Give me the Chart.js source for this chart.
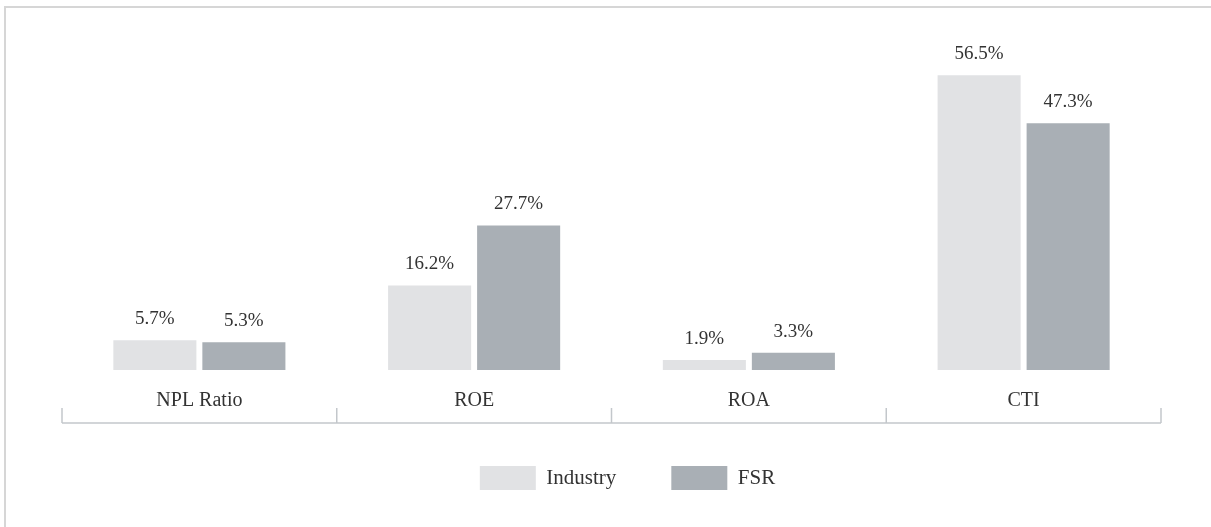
<!DOCTYPE html>
<html>
<head>
<meta charset="utf-8">
<script src="https://cdn.jsdelivr.net/npm/chart.js@4.4.1/dist/chart.umd.min.js"></script>
<style>
  html, body { margin: 0; padding: 0; background: #ffffff; }
  #frame { position: absolute; left: 4px; top: 6px; width: 1220px; height: 540px;
           border-top: 2px solid #d6d6d6; border-left: 2px solid #d6d6d6; box-sizing: border-box; }
  #wrap { position: absolute; left: 0; top: 0; width: 1211px; height: 527px; }
</style>
</head>
<body>
<div id="frame"></div>
<div id="wrap"><canvas id="c" width="1211" height="527"></canvas></div>
<script>
const categories = ["NPL Ratio", "ROE", "ROA", "CTI"];
const industryValues = [5.7, 16.2, 1.9, 56.5];
const fsrValues = [5.3, 27.7, 3.3, 47.3];
const seriesNames = ["Industry", "FSR"];

const FONT = "'Liberation Serif', 'Times New Roman', serif";
const TEXT = "#333333";

const valueLabels = {
  id: "valueLabels",
  afterDatasetsDraw(chart) {
    const ctx = chart.ctx;
    ctx.save();
    ctx.font = "19px " + FONT;
    ctx.fillStyle = TEXT;
    ctx.textAlign = "center";
    ctx.textBaseline = "middle";
    chart.data.datasets.forEach((ds, di) => {
      const meta = chart.getDatasetMeta(di);
      meta.data.forEach((bar, i) => {
        ctx.fillText(ds.data[i].toFixed(1) + "%", bar.x, bar.y - 21);
      });
    });
    ctx.restore();
  }
};

const axisLine = {
  id: "axisLine",
  afterDraw(chart) {
    const x = chart.scales.x;
    const ctx = chart.ctx;
    const y = chart.chartArea.bottom + 53;
    const n = categories.length;
    const bounds = [x.left];
    for (let i = 0; i < n - 1; i++) {
      bounds.push((x.getPixelForTick(i) + x.getPixelForTick(i + 1)) / 2);
    }
    bounds.push(x.right);
    ctx.save();
    ctx.strokeStyle = "#c3c7cb";
    ctx.lineWidth = 1.5;
    ctx.beginPath();
    ctx.moveTo(bounds[0], y);
    ctx.lineTo(bounds[bounds.length - 1], y);
    bounds.forEach(b => {
      ctx.moveTo(b, y);
      ctx.lineTo(b, y - 15);
    });
    ctx.stroke();
    ctx.restore();
  }
};

new Chart(document.getElementById("c"), {
  type: "bar",
  data: {
    labels: categories,
    datasets: [
      { label: seriesNames[0], data: industryValues, backgroundColor: "#e1e2e4", borderWidth: 0, yAxisID: "y" },
      { label: seriesNames[1], data: fsrValues, backgroundColor: "#a9afb5", borderWidth: 0, yAxisID: "y" }
    ]
  },
  options: {
    responsive: false,
    animation: false,
    layout: { padding: { left: 44, right: 0, top: 57, bottom: 27 } },
    datasets: { bar: { categoryPercentage: 0.648, barPercentage: 0.933 } },
    scales: {
      x: {
        grid: { display: false, drawTicks: false },
        border: { display: false },
        ticks: { color: TEXT, font: { family: FONT, size: 20 }, padding: 19, maxRotation: 0 },
        afterFit(s) { s.height = 41; }
      },
      y: {
        min: 0, max: 60,
        grid: { display: false, drawTicks: false },
        border: { display: false },
        ticks: { display: false },
        afterFit(s) { s.width = 18; }
      },
      y2: {
        type: "linear", position: "right",
        min: 0, max: 60,
        grid: { display: false, drawTicks: false },
        border: { display: false },
        ticks: { display: false },
        afterFit(s) { s.width = 50; }
      }
    },
    plugins: {
      tooltip: { enabled: false },
      legend: {
        position: "bottom",
        labels: {
          boxWidth: 56, boxHeight: 24, padding: 55,
          color: TEXT, font: { family: FONT, size: 21 }
        }
      }
    }
  },
  plugins: [valueLabels, axisLine]
});
</script>
</body>
</html>
